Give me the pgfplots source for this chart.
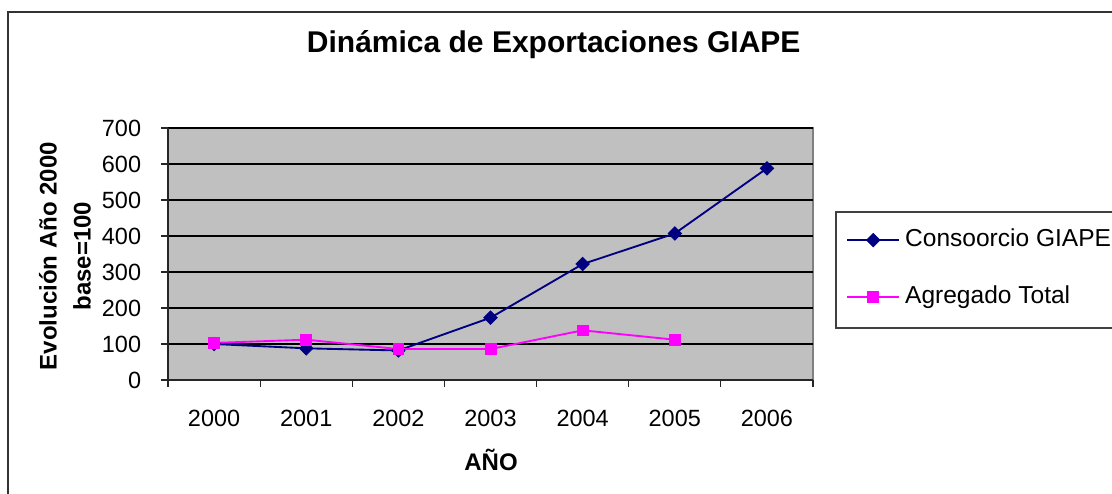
\documentclass[border=0pt]{standalone}
\usepackage{pgfplots}
\pgfplotsset{compat=1.18}
\usepackage{fontspec}
\setmainfont{Liberation Sans}
\definecolor{consorcio}{HTML}{000080}
\definecolor{agregado}{HTML}{FF00FF}
\definecolor{plotbg}{HTML}{C0C0C0}
\begin{document}
\begin{tikzpicture}
\useasboundingbox (0,0) rectangle (834pt,369.75pt);
\clip (0,0) rectangle (834pt,369.75pt);
% outer chart frame (right and bottom edges fall outside the picture)
\draw[line width=1.1pt, black!80] (6pt,-5pt) -- (6pt,360.75pt) -- (840pt,360.75pt);
% legend frame
\draw[line width=1pt, black!75] (627pt,123.75pt) rectangle (850pt,210.75pt);
\begin{axis}[
  at={(126pt,84.75pt)}, anchor=south west,
  scale only axis, width=483.75pt, height=189pt,
  xmin=-0.5, xmax=6.5, ymin=0, ymax=700,
  axis lines*=left,
  axis line style={line width=0.9pt, black!85},
  axis background/.style={fill=plotbg, draw=gray, line width=0.9pt},
  xtick={0,1,2,3,4,5,6},
  xticklabels={2000,2001,2002,2003,2004,2005,2006},
  minor xtick={-0.5,0.5,1.5,2.5,3.5,4.5,5.5,6.5},
  major x tick style={draw=none},
  ytick={0,100,200,300,400,500,600,700},
  ymajorgrids, grid style={black, line width=0.9pt},
  tick align=outside,
  major tick length=5pt, minor tick length=5pt,
  tick style={black!85, line width=0.8pt},
  tick label style={font=\fontsize{17.6}{20}\selectfont},
  /pgf/number format/assume math mode=true,
  yticklabel style={anchor=east, inner sep=0pt, xshift=-15pt},
  xticklabel style={anchor=center, inner sep=0pt, yshift=-24pt},
  title={Dinámica de Exportaciones GIAPE},
  title style={at={(rel axis cs:0.598,1.30)}, anchor=center,
    font=\fontsize{22.5}{26}\selectfont\bfseries},
  xlabel={AÑO},
  xlabel style={at={(rel axis cs:0.5008,-0.317)}, anchor=center,
    font=\fontsize{18}{21}\selectfont\bfseries},
  ylabel={Evolución Año 2000\\base=100},
  ylabel style={at={(rel axis cs:-0.1597,0.492)}, anchor=center, align=center,
    font=\fontsize{18}{25.5}\selectfont\bfseries},
  legend style={at={(rel axis cs:1.0512,0.4425)}, anchor=west,
    draw=none, fill=none, inner sep=0pt, row sep=25pt, column sep=3.75pt,
    font=\fontsize{18.4}{22}\selectfont,
    nodes={inner sep=0pt, text height=13.5pt, text depth=4pt}},
  legend cell align=left,
  legend image code/.code={
    \draw[mark repeat=2, mark phase=2] plot coordinates {(0pt,0pt) (19.5pt,0pt) (39pt,0pt)};},
  clip=false,
]
\addplot[consorcio, line width=1.4pt, mark=square*, mark size=3.6pt,
  mark options={rotate=45, line width=0.5pt}]
  coordinates {(0,100) (1,88) (2,82) (3,173) (4,322) (5,407) (6,588)};
\addlegendentry{Consoorcio GIAPE}
\addplot[agregado, line width=1.4pt, mark=square*, mark size=4.1pt,
  mark options={line width=0.5pt}]
  coordinates {(0,103) (1,112) (2,86) (3,86) (4,138) (5,112)};
\addlegendentry{Agregado Total}
\end{axis}
\end{tikzpicture}
\end{document}
